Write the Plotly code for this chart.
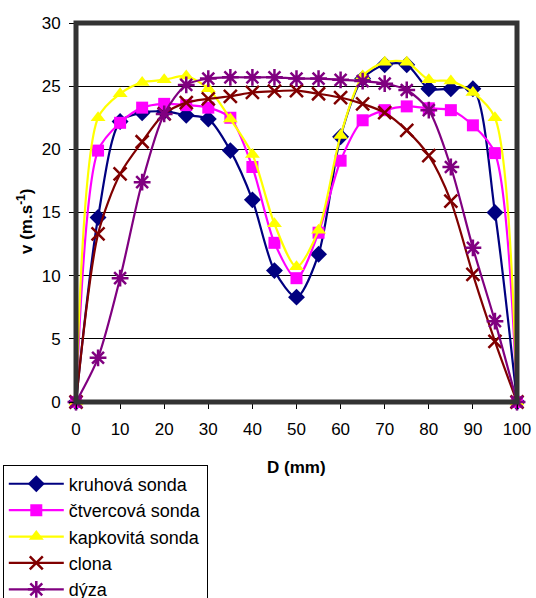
import plotly.graph_objects as go

D = [0, 5, 10, 15, 20, 25, 30, 35, 40, 45, 50, 55, 60, 65, 70, 75, 80, 85, 90, 95, 100]

kruhova = [0, 14.6, 22.2, 22.9, 23.0, 22.7, 22.4, 19.9, 16.0, 10.4, 8.3, 11.7, 21.0, 25.6, 26.7, 26.7, 24.8, 24.8, 24.8, 15.0, 0]
ctvercova = [0, 19.9, 22.1, 23.3, 23.6, 23.5, 23.3, 22.5, 18.6, 12.6, 9.8, 13.4, 19.1, 22.3, 23.1, 23.4, 23.25, 23.1, 21.9, 19.7, 0]
kapkovita = [0, 22.5, 24.4, 25.3, 25.5, 25.8, 24.8, 22.4, 19.6, 14.1, 10.7, 13.6, 21.1, 25.8, 26.9, 26.9, 25.5, 25.4, 24.5, 22.5, 0]
clona = [0, 13.3, 18.05, 20.6, 22.8, 23.7, 24.0, 24.2, 24.5, 24.6, 24.65, 24.4, 24.1, 23.6, 22.9, 21.5, 19.5, 15.9, 10.1, 4.8, 0]
dyza = [0, 3.5, 9.8, 17.4, 22.8, 25.1, 25.6, 25.7, 25.7, 25.7, 25.6, 25.6, 25.5, 25.4, 25.2, 24.7, 23.1, 18.6, 12.2, 6.4, 0]

names = ["kruhová sonda", "čtvercová sonda", "kapkovitá sonda", "clona", "dýza"]
x_ticks = [0, 10, 20, 30, 40, 50, 60, 70, 80, 90, 100]
y_ticks = [0, 5, 10, 15, 20, 25, 30]
x_title = "<b>D (mm)</b>"
y_title = "<b>v (m.s<sup>-1</sup>)</b>"

series = [kruhova, ctvercova, kapkovita, clona, dyza]
colors = ["#000080", "#FF00FF", "#FFFF00", "#800000", "#800080"]
symbols = ["diamond", "square", "triangle-up", "x-thin-open", "asterisk-open"]
msizes = [13, 12, 13, 13, 14]

fig = go.Figure()
for name, ys, c, s, ms in zip(names, series, colors, symbols, msizes):
    thin = s.endswith("-open")
    fig.add_trace(go.Scatter(
        x=D, y=ys, name=name, mode="lines+markers", cliponaxis=False,
        line=dict(color=c, width=2.2, shape="spline", smoothing=0.8),
        marker=dict(symbol=s, size=ms, color=c,
                    line=dict(color=c, width=2.5 if thin else 0)),
    ))

fig.update_layout(
    width=536, height=598,
    margin=dict(l=76, r=19, t=23, b=196, autoexpand=False),
    paper_bgcolor="white", plot_bgcolor="white",
    font=dict(family="Liberation Sans, Arial, sans-serif", size=17, color="black"),
    showlegend=True,
    legend=dict(x=-0.166, y=-0.165, xanchor="left", yanchor="top",
                bordercolor="black", borderwidth=1, bgcolor="white",
                font=dict(size=18), tracegroupgap=0, itemwidth=55),
    xaxis=dict(range=[0, 100], tickvals=x_ticks, showgrid=False, zeroline=False,
               ticks="outside", ticklen=6, tickcolor="black", showline=False,
               automargin=False, ticklabelstandoff=6),
    yaxis=dict(range=[0, 30], tickvals=y_ticks, showgrid=True, gridcolor="black",
               gridwidth=1, zeroline=False, ticks="outside", ticklen=6,
               tickcolor="black", showline=False, automargin=False,
               ticklabelstandoff=5),
    annotations=[
        dict(text=x_title, xref="paper", yref="paper", x=0.5, y=-0.174,
             xanchor="center", yanchor="middle", showarrow=False, font=dict(size=17)),
        dict(text=y_title, xref="paper", yref="paper", x=-0.1156, y=0.475,
             xanchor="center", yanchor="middle", showarrow=False, textangle=-90,
             font=dict(size=17)),
    ],
)

fig.add_shape(type="rect", xref="paper", yref="paper", x0=0, y0=0, x1=1, y1=1,
              line=dict(color="#333333", width=5), layer="above")

fig.write_html("out.html", config={"displayModeBar": False},
               post_script="document.body.style.margin='0';document.body.style.overflow='hidden';")
